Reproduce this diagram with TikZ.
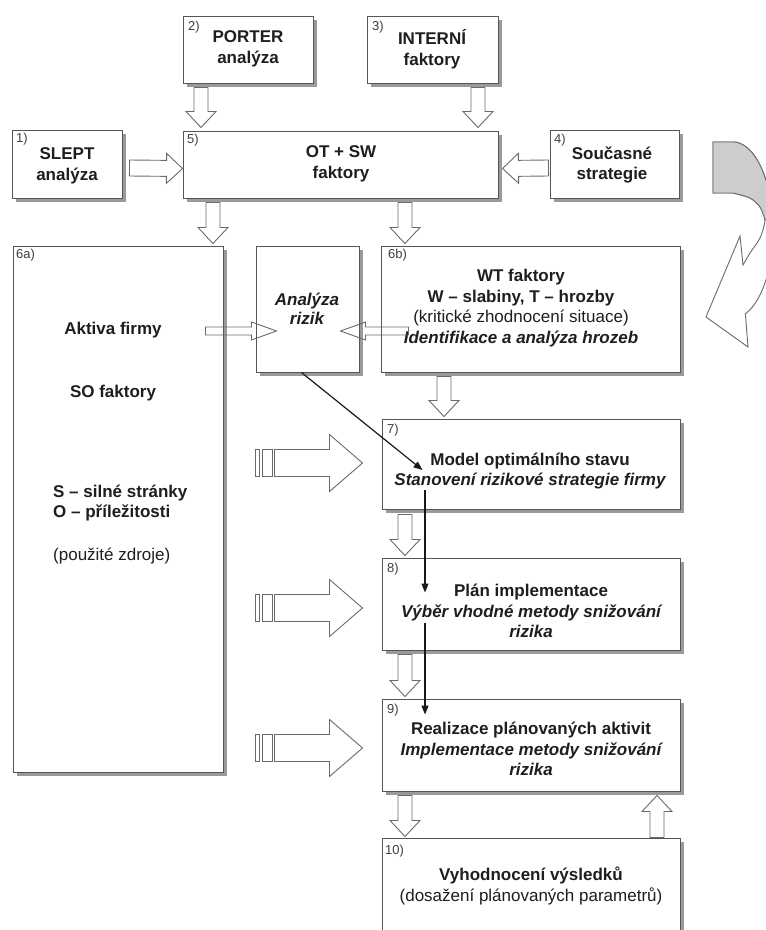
\documentclass[tikz,border=0pt]{standalone}
\usepackage{fontspec}
\setmainfont{Liberation Sans}
\usetikzlibrary{calc,arrows.meta,shadows,fit}

\definecolor{txt}{HTML}{1E1E1E}
\definecolor{edge}{HTML}{555555}
\definecolor{shade}{HTML}{9A9A9A}
\definecolor{arrowline}{HTML}{6A6A6A}
\definecolor{ribbon}{HTML}{CDCDCD}

\tikzset{
  box/.style={draw=edge, line width=1pt, fill=white, inner sep=0pt,
    drop shadow={shadow xshift=4pt, shadow yshift=-4pt, fill=shade, opacity=1}},
  txtnode/.style={text=txt, font=\fontsize{17}{20.5}\selectfont\bfseries, align=center, inner sep=0pt},
  lab/.style={text=txt!85, font=\fontsize{13}{14}\selectfont, anchor=north west, inner sep=0pt},
  hollow/.style={draw=arrowline, line width=0.9pt, fill=white, line join=miter},
  thinarrow/.style={draw=black!90, line width=1.2pt, -{Triangle[length=9pt,width=7pt]}},
  ribbonline/.style={draw=arrowline, line width=0.9pt, line join=miter}
}

% [style]{start}{end}{half shaft}{half head}{head length}
\newcommand\blockarrow[6][]{%
  \path #2 coordinate (ba-s);
  \path #3 coordinate (ba-e);
  \path ($(ba-e)!#6!(ba-s)$) coordinate (ba-h);
  \draw[hollow,#1] ($(ba-s)!#4!90:(ba-e)$) -- ($(ba-h)!#4!90:(ba-e)$)
    -- ($(ba-h)!#5!90:(ba-e)$) -- (ba-e) -- ($(ba-h)!#5!-90:(ba-e)$)
    -- ($(ba-h)!#4!-90:(ba-e)$) -- ($(ba-s)!#4!-90:(ba-e)$) -- cycle;
}
% {target node}{y offset}
\newcommand\stripedarrow[2]{%
  \blockarrow{($(#1.west)+(-107,#2)$)}{($(#1.west)+(-19,#2)$)}{13.5pt}{28.5pt}{33pt}
  \draw[hollow] ($(#1.west)+(-126,#2-13.5)$) rectangle ($(#1.west)+(-122,#2+13.5)$);
  \draw[hollow] ($(#1.west)+(-119,#2-13.5)$) rectangle ($(#1.west)+(-109,#2+13.5)$);
}

\begin{document}
\begin{tikzpicture}[x=1pt,y=-1pt]
\useasboundingbox (0,0) rectangle (766,930);

% ---- boxes
\node[box, fit={(12,130) (122,198)}] (b1) {};
\node[box, fit={(183,16) (313,83)}] (b2) {};
\node[box, fit={(367,16) (498,83)}] (b3) {};
\node[box, fit={(550,130) (679,198)}] (b4) {};
\node[box, fit={(183,131) (498,198)}] (b5) {};
\node[box, fit={(13,246) (223,772)}] (b6a) {};
\node[box, fit={(256,246) (359,372)}] (bar) {};
\node[box, fit={(381,246) (680,372)}] (b6b) {};
\node[box, fit={(382,419) (680,509)}] (b7) {};
\node[box, fit={(382,558) (680,650)}] (b8) {};
\node[box, fit={(382,699) (680,791)}] (b9) {};
\node[box, fit={(382,838) (680,950)}] (b10) {};

% ---- number labels
\node[lab] (l1) at (16,133) {1)};
\node[lab] (l2) at (188,21) {2)};
\node[lab] (l3) at (372,21) {3)};
\node[lab] (l4) at (554,134) {4)};
\node[lab] (l5) at (187,134) {5)};
\node[lab] (l6a) at (16,249) {6a)};
\node[lab] (l6b) at (388,249) {6b)};
\node[lab] (l7) at (387,424) {7)};
\node[lab] (l8) at (387,563) {8)};
\node[lab] (l9) at (387,704) {9)};
\node[lab] (l10) at (385,845) {10)};

% ---- texts
\node[txtnode] (t1) at (67,166) {SLEPT\\analýza};
\node[txtnode] (t2) at (248,49) {PORTER\\analýza};
\node[txtnode] (t3) at (432,49) {INTERNÍ\\faktory};
\node[txtnode] (t4) at (612,165) {Současné\\strategie};
\node[txtnode] (t5) at (341,164) {OT + SW\\faktory};
\node[txtnode] (t6a1) at (113,330) {Aktiva firmy};
\node[txtnode] (t6a2) at (113,393) {SO faktory};
\node[txtnode, align=left, anchor=west] (t6a3) at (53,503) {S – silné stránky\\O – příležitosti};
\node[txtnode, anchor=west, font=\fontsize{17}{20.5}\selectfont] (t6a4) at (53,556) {(použité zdroje)};
\node[txtnode, font=\fontsize{17}{19}\selectfont\bfseries\itshape] (tbar) at (307,309) {Analýza\\rizik};
\node[txtnode] (t6b) at (521,308) {WT faktory\\W – slabiny, T – hrozby\\{\mdseries (kritické zhodnocení situace)}\\{\itshape Identifikace a analýza hrozeb}};
\node[txtnode] (t7) at (530,471) {Model optimálního stavu\\{\itshape Stanovení rizikové strategie firmy}};
\node[txtnode] (t8) at (531,611) {Plán implementace\\{\itshape Výběr vhodné metody snižování}\\{\itshape rizika}};
\node[txtnode] (t9) at (531,749) {Realizace plánovaných aktivit\\{\itshape Implementace metody snižování}\\{\itshape rizika}};
\node[txtnode] (t10) at (531,886) {Vyhodnocení výsledků\\{\mdseries (dosažení plánovaných parametrů)}};

% ---- hollow block arrows
\blockarrow{($(b2.south -| 201,0)+(0,4)$)}{($(b5.north -| 201,0)+(0,-3)$)}{7pt}{15pt}{16pt}
\blockarrow{($(b3.south -| 478,0)+(0,4)$)}{($(b5.north -| 478,0)+(0,-3)$)}{7pt}{15pt}{16pt}
\blockarrow{($(b1.east)+(7,4)$)}{($(b5.west)+(0,4)$)}{8pt}{15pt}{16pt}
\blockarrow{($(b4.west)+(-1,4)$)}{($(b5.east)+(4,4)$)}{8pt}{15pt}{16pt}
\blockarrow{($(b5.south -| 213,0)+(0,4)$)}{($(b6a.north -| 213,0)+(0,-2)$)}{7pt}{15pt}{16pt}
\blockarrow{($(b5.south -| 405,0)+(0,4)$)}{($(b6b.north -| 405,0)+(0,-2)$)}{7pt}{15pt}{16pt}
\blockarrow{($(b6b.south -| 444,0)+(0,4)$)}{($(b7.north -| 444,0)+(0,-2)$)}{7pt}{15pt}{16pt}
\blockarrow{($(b7.south -| 405,0)+(0,5)$)}{($(b8.north -| 405,0)+(0,-2)$)}{7pt}{15pt}{16pt}
\blockarrow{($(b8.south -| 405,0)+(0,4)$)}{($(b9.north -| 405,0)+(0,-2)$)}{7pt}{15pt}{16pt}
\blockarrow{($(b9.south -| 405,0)+(0,4)$)}{($(b10.north -| 405,0)+(0,-1)$)}{7pt}{15pt}{16pt}
\blockarrow{($(b10.north -| 657,0)$)}{($(b9.south -| 657,0)+(0,4)$)}{7pt}{15pt}{16pt}
\blockarrow[fill=none]{($(bar.west)+(-50,22)$)}{($(bar.west)+(21,22)$)}{4pt}{9pt}{25pt}
\blockarrow[fill=none]{($(b6b.west)+(28,22)$)}{($(bar.east)+(-19,22)$)}{4pt}{9pt}{25pt}

\stripedarrow{b7}{-1}
\stripedarrow{b8}{4}
\stripedarrow{b9}{3}

% ---- thin black arrows
\coordinate (r1) at ($(bar.south)+(-6,0)$);
\coordinate (r2) at ($(b7.west)+(41,6)$);
\draw[thinarrow] (r1) -- (r2);
\coordinate (r3) at ($(b7.south -| 425,0)+(0,-20)$);
\coordinate (r4) at ($(b8.north -| 425,0)+(0,35)$);
\draw[thinarrow] (r3) -- (r4);
\coordinate (r5) at ($(b8.south -| 425,0)+(0,-28)$);
\coordinate (r6) at ($(b9.north -| 425,0)+(0,16)$);
\draw[thinarrow] (r5) -- (r6);

% ---- curled ribbon arrow on the right
\begin{scope}
\clip (0,0) rectangle (766,930);
\draw[ribbonline, fill=white] (713,142) -- (733,142)
  -- plot[domain=-90:72, samples=60, variable=\t] ({733+40*cos(\t)},{230+88*sin(\t)})
  -- (748,347) -- (706,317) -- (740,236) -- (743,265)
  -- plot[smooth] coordinates {(743,265) (750,253) (760,238) (765,220) (760,207) (750,198) (733,193)}
  -- (713,193) -- cycle;
\draw[ribbonline, fill=ribbon] (713,142) -- (733,142)
  -- plot[domain=-90:-10, samples=40, variable=\t] ({733+40*cos(\t)},{230+88*sin(\t)})
  -- (765,220)
  -- plot[smooth] coordinates {(765,220) (760,207) (750,198) (733,193)}
  -- (713,193) -- cycle;
\end{scope}
\end{tikzpicture}
\end{document}
